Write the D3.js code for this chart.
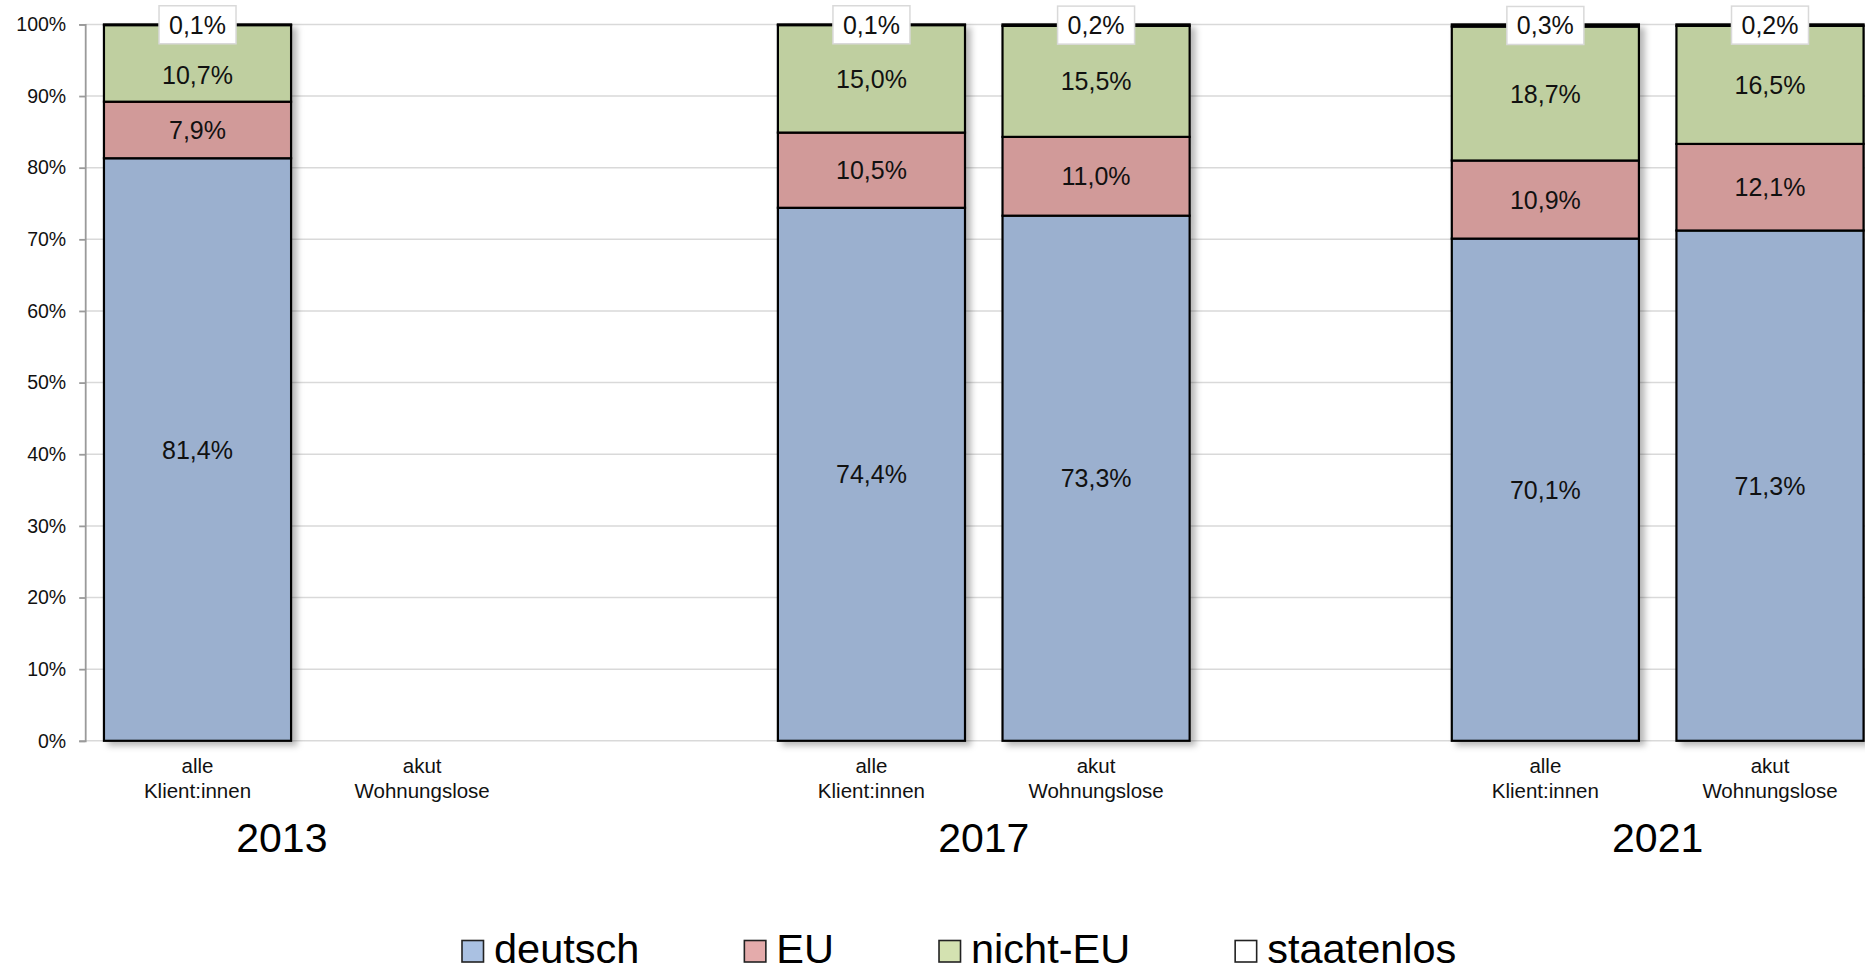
<!DOCTYPE html>
<html lang="de">
<head>
<meta charset="utf-8">
<script src="https://cdn.jsdelivr.net/npm/d3@7"></script>
<style>
  html, body { margin: 0; padding: 0; background: #fff; }
  svg { display: block; font-family: "Liberation Sans", Arial, sans-serif; }
</style>
</head>
<body>
<svg id="chart" width="1865" height="972"></svg>
<script>
// Years and the two client groups shown for each year
const years = ["2013", "2017", "2021"];
const groups = ["alle", "akut"];
const groupLabels = [["alle", "Klient:innen"], ["akut", "Wohnungslose"]];

// Shares in percent, per bar: 2013 alle, 2013 akut, 2017 alle, 2017 akut, 2021 alle, 2021 akut
const seriesNames = ["deutsch", "EU", "nicht-EU", "staatenlos"];
const deutsch    = [81.4, null, 74.4, 73.3, 70.1, 71.3];
const eu         = [7.9,  null, 10.5, 11.0, 10.9, 12.1];
const nichtEu    = [10.7, null, 15.0, 15.5, 18.7, 16.5];
const staatenlos = [0.1,  null, 0.1,  0.2,  0.3,  0.2];

const yTickValues = [0, 0.1, 0.2, 0.3, 0.4, 0.5, 0.6, 0.7, 0.8, 0.9, 1];
const yTickLabels = ["0%", "10%", "20%", "30%", "40%", "50%", "60%", "70%", "80%", "90%", "100%"];

const barColors    = ["#9bb0cf", "#d19a99", "#bfcfa0", "#ffffff"];
const legendColors = ["#aac1e2", "#e4abab", "#d4e2b1", "#ffffff"];

// ---- layout ----
const svg = d3.select("#chart");
const axisX = 85.2;
const step = 224.64;

// one slot per bar, plus an empty spacer slot after each year except the last
const slots = [];
years.forEach((yr, yi) => {
  groups.forEach(g => slots.push(yr + "|" + g));
  if (yi < years.length - 1) slots.push("spacer" + yi);
});

const x = d3.scaleBand()
  .domain(slots)
  .range([axisX, axisX + step * slots.length])
  .paddingInner(0.167)
  .paddingOuter(0.0835);

const y = d3.scaleLinear().domain([0, 1]).range([740.8, 24.4]);

// rows for stacking
const rows = [];
years.forEach((yr, yi) => {
  groups.forEach((g, gi) => {
    const i = yi * groups.length + gi;
    rows.push({
      key: yr + "|" + g,
      has: deutsch[i] != null,
      "deutsch": deutsch[i] || 0,
      "EU": eu[i] || 0,
      "nicht-EU": nichtEu[i] || 0,
      "staatenlos": staatenlos[i] || 0
    });
  });
});

const stacked = d3.stack().keys(seriesNames).offset(d3.stackOffsetExpand)(rows);

const deLocale = d3.formatLocale({ decimal: ",", thousands: ".", grouping: [3], currency: ["", " €"] });
const fmt = v => deLocale.format(".1f")(v) + "%";

// drop shadow for the bars
const defs = svg.append("defs");
const shadow = defs.append("filter").attr("id", "barShadow")
  .attr("x", "-10%").attr("y", "-10%").attr("width", "130%").attr("height", "130%");
shadow.append("feDropShadow")
  .attr("dx", 5).attr("dy", 4).attr("stdDeviation", 3)
  .attr("flood-color", "#000").attr("flood-opacity", 0.28);

// gridlines
svg.append("g").selectAll("line")
  .data(yTickValues)
  .join("line")
  .attr("x1", axisX).attr("x2", 1865)
  .attr("y1", d => y(d)).attr("y2", d => y(d))
  .attr("stroke", "#d9d9d9").attr("stroke-width", 1.5);

// y axis
const yAxis = svg.append("g")
  .attr("transform", `translate(${axisX},0)`)
  .call(d3.axisLeft(y).tickValues(yTickValues)
    .tickFormat((d, i) => yTickLabels[i]).tickSize(6).tickPadding(13));
yAxis.select(".domain").attr("stroke", "#9a9a9a").attr("stroke-width", 1.8);
yAxis.selectAll(".tick line").attr("stroke", "#9a9a9a").attr("stroke-width", 1.8);
yAxis.selectAll(".tick text")
  .attr("font-size", 19.5).attr("fill", "#111")
  .attr("font-family", "Liberation Sans, Arial, sans-serif");

// bars
const barRows = rows.map((r, j) => ({ r, j })).filter(o => o.r.has);
const bars = svg.append("g");
barRows.forEach(({ r, j }) => {
  const g = bars.append("g").attr("filter", "url(#barShadow)");
  stacked.forEach((s, si) => {
    const d = s[j];
    g.append("rect")
      .attr("x", x(r.key))
      .attr("width", x.bandwidth())
      .attr("y", y(d[1]))
      .attr("height", Math.max(0, y(d[0]) - y(d[1])))
      .attr("fill", barColors[si])
      .attr("stroke", "#000")
      .attr("stroke-width", 2.2);
  });
});

// value labels (the 2013 nicht-EU label sits a little lower, clear of the box above it)
const labelShift = { "2013|alle|nicht-EU": 12 };
const labels = svg.append("g").attr("font-size", 25).attr("fill", "#111");
barRows.forEach(({ r, j }) => {
  const cx = x(r.key) + x.bandwidth() / 2;
  stacked.forEach((s, si) => {
    const d = s[j];
    const cy = (y(d[0]) + y(d[1])) / 2 + (labelShift[r.key + "|" + seriesNames[si]] || 0);
    const txt = fmt(r[seriesNames[si]]);
    if (si < 3) {
      labels.append("text")
        .attr("x", cx).attr("y", cy).attr("dy", "0.36em")
        .attr("text-anchor", "middle")
        .text(txt);
    } else {
      const box = labels.append("g");
      const t = box.append("text")
        .attr("x", cx).attr("y", cy).attr("dy", "0.36em")
        .attr("text-anchor", "middle")
        .text(txt);
      const w = t.node().getComputedTextLength() + 20;
      box.insert("rect", "text")
        .attr("x", cx - w / 2).attr("y", cy - 19)
        .attr("width", w).attr("height", 38)
        .attr("fill", "#fff")
        .attr("stroke", "#d9d9d9").attr("stroke-width", 1.5);
    }
  });
});

// category labels
const catG = svg.append("g").attr("font-size", 20.5).attr("fill", "#111").attr("text-anchor", "middle");
rows.forEach((r, j) => {
  const cx = x(r.key) + x.bandwidth() / 2;
  const lines = groupLabels[j % groups.length];
  const t = catG.append("text").attr("x", cx).attr("y", 773.3);
  lines.forEach((ln, li) => {
    t.append("tspan").attr("x", cx).attr("dy", li === 0 ? 0 : 25).text(ln);
  });
});

// year labels
const yearNudge = { "2013": -28 };
const yearG = svg.append("g").attr("font-size", 41).attr("fill", "#000").attr("text-anchor", "middle");
years.forEach(yr => {
  const a = x(yr + "|" + groups[0]);
  const b = x(yr + "|" + groups[groups.length - 1]) + x.bandwidth();
  yearG.append("text")
    .attr("x", (a + b) / 2 + (yearNudge[yr] || 0))
    .attr("y", 851.5)
    .text(yr);
});

// legend
const legend = svg.append("g").attr("font-size", 41.5).attr("fill", "#000");
let lx = 462;
seriesNames.forEach((name, i) => {
  legend.append("rect")
    .attr("x", lx).attr("y", 940.5)
    .attr("width", 21.5).attr("height", 21.5)
    .attr("fill", legendColors[i])
    .attr("stroke", "#222").attr("stroke-width", 1.6);
  const t = legend.append("text")
    .attr("x", lx + 32).attr("y", 962.5)
    .text(name);
  lx += 32 + t.node().getComputedTextLength() + 105;
});
</script>
</body>
</html>
